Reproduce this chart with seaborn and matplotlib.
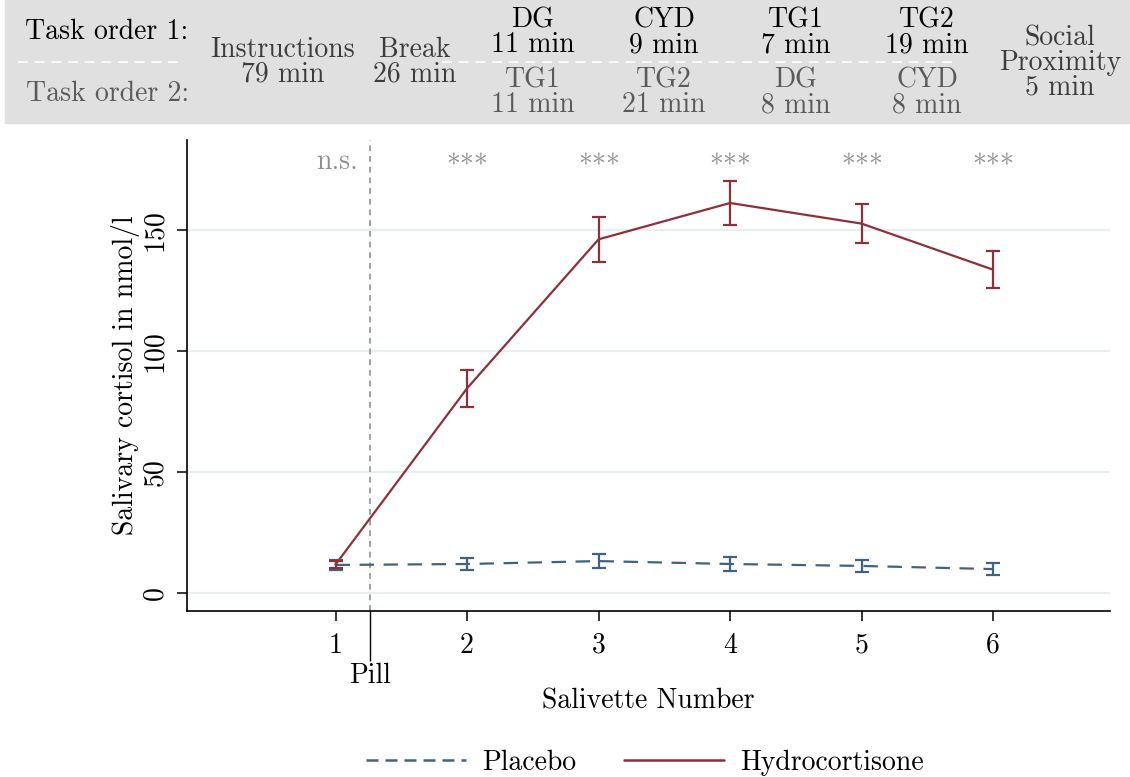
import numpy as np
import pandas as pd
import matplotlib
matplotlib.use("Agg")
import matplotlib.pyplot as plt
import matplotlib.transforms as mtransforms
import seaborn as sns

# data
salivette = [1, 2, 3, 4, 5, 6]
placebo_mean = [11.6, 12.0, 13.2, 12.0, 11.2, 9.9]
placebo_err = [2.0, 2.6, 3.0, 2.8, 2.4, 2.4]
hydro_mean = [11.8, 84.5, 146.0, 161.0, 152.5, 133.5]
hydro_err = [1.5, 7.7, 9.3, 9.1, 8.2, 7.5]
signif = ["n.s.", "***", "***", "***", "***", "***"]

order1 = [("DG", "11 min"), ("CYD", "9 min"), ("TG1", "7 min"), ("TG2", "19 min")]
order2 = [("TG1", "11 min"), ("TG2", "21 min"), ("DG", "8 min"), ("CYD", "8 min")]

placebo_col = "#3e6480"
hydro_col = "#8f3039"
FS = 20

sns.set_style("white")
plt.rcParams["font.family"] = ["cmr10", "DejaVu Serif"]
plt.rcParams["mathtext.fontset"] = "cm"
plt.rcParams["axes.formatter.use_mathtext"] = True
plt.rcParams["text.color"] = "black"
plt.rcParams["xtick.color"] = "black"
plt.rcParams["ytick.color"] = "black"
plt.rcParams["axes.labelcolor"] = "black"

df = pd.DataFrame({
    "Salivette": salivette * 2,
    "cortisol": placebo_mean + hydro_mean,
    "group": ["Placebo"] * 6 + ["Hydrocortisone"] * 6,
})

fig = plt.figure(figsize=(11.3, 7.77), dpi=100)
ax = fig.add_axes([187 / 1130, 1 - 611 / 777, (1110 - 187) / 1130, (611 - 140) / 777])

# horizontal grid
for yv in [0, 50, 100, 150]:
    ax.axhline(yv, color="#e9eff1", lw=1.6, zorder=0)

sns.lineplot(data=df, x="Salivette", y="cortisol", hue="group", style="group",
             palette={"Placebo": placebo_col, "Hydrocortisone": hydro_col},
             dashes={"Placebo": (6.5, 4.3), "Hydrocortisone": ""},
             linewidth=1.6, ax=ax, legend=False, zorder=3)

ax.errorbar(salivette, placebo_mean, yerr=placebo_err, fmt="none",
            ecolor=placebo_col, elinewidth=1.6, capsize=5, capthick=1.6, zorder=3)
ax.errorbar(salivette, hydro_mean, yerr=hydro_err, fmt="none",
            ecolor=hydro_col, elinewidth=1.6, capsize=5, capthick=1.6, zorder=3)

pill_x = 1.26
ax.axvline(pill_x, color="#a0a0a0", lw=1.4, ls=(0, (3, 2.5)), zorder=1)

# significance markers
for x, s in zip(salivette, signif):
    if s == "n.s.":
        ax.text(pill_x - 0.09, 178, s, ha="right", va="center", fontsize=FS, color="#909090")
    else:
        ax.text(x, 180, r"${\ast}{\ast}{\ast}$", ha="center", va="center", fontsize=FS, color="#909090")

ax.set_xlim(-0.13, 6.89)
ax.set_ylim(-7.4, 187)
ax.set_xticks(salivette)
ax.set_xticklabels([str(s) for s in salivette], fontsize=FS)
ax.set_xticks([pill_x], minor=True)
ax.set_xticklabels(["Pill"], minor=True, fontsize=FS)
ax.tick_params(axis="x", which="both", bottom=True)
ax.tick_params(axis="x", which="major", length=7.5, width=1.1, pad=8)
ax.tick_params(axis="x", which="minor", length=36, width=1.0, pad=1)
ax.set_yticks([0, 50, 100, 150])
ax.set_yticklabels(["0", "50", "100", "150"], rotation=90, va="center", fontsize=FS)
ax.tick_params(axis="y", left=True, length=7.5, width=1.1, pad=6)
ax.set_xlabel("Salivette Number", fontsize=FS, va="center")
ax.set_ylabel("Salivary cortisol in nmol/l", fontsize=FS, va="center")
ax.xaxis.set_label_coords(0.5, (611 - 701) / 471)
ax.yaxis.set_label_coords((125 - 187) / 923, 0.5)
for side in ["top", "right"]:
    ax.spines[side].set_visible(False)
for side in ["left", "bottom"]:
    ax.spines[side].set_linewidth(1.2)
    ax.spines[side].set_color("black")

# header band
fig.patches.append(plt.Rectangle((5 / 1130, 1 - 123 / 777), 1 - 5 / 1130, 123 / 777,
                                 transform=fig.transFigure, color="#e0e0e0", zorder=-1))
trans = mtransforms.blended_transform_factory(ax.transData, fig.transFigure)

def fy(px):
    return 1 - px / 777

def htext(x, ypx, s, color, tr=trans):
    fig.text(x, fy(ypx), s, transform=tr, ha="center", va="center", fontsize=FS, color=color)

htext(107 / 1130, 32, "Task order 1:", "black", fig.transFigure)
htext(107 / 1130, 94, "Task order 2:", "#5a5a5a", fig.transFigure)
htext(0.6, 50, "Instructions", "#3c3c3c")
htext(0.6, 74, "79 min", "#3c3c3c")
htext(1.6, 50, "Break", "#3c3c3c")
htext(1.6, 74, "26 min", "#3c3c3c")
for i, ((t1, m1), (t2, m2)) in enumerate(zip(order1, order2)):
    xc = 2.5 + i
    htext(xc, 20, t1, "black")
    htext(xc, 45, m1, "black")
    htext(xc, 80, t2, "#5a5a5a")
    htext(xc, 105, m2, "#5a5a5a")
htext(6.51, 38, "Social", "#3c3c3c")
htext(6.51, 63, "Proximity", "#3c3c3c")
htext(6.51, 87, "5 min", "#3c3c3c")

# white dashed separators in header
fig.add_artist(plt.Line2D([18 / 1130, 178 / 1130], [fy(62), fy(62)], transform=fig.transFigure,
                          color="white", lw=1.2, ls=(0, (6, 4))))
fig.add_artist(plt.Line2D([442 / 1130, 955 / 1130], [fy(62), fy(62)], transform=fig.transFigure,
                          color="white", lw=1.2, ls=(0, (6, 4))))

# legend
handles = [plt.Line2D([], [], color=placebo_col, lw=1.8, ls=(0, (4.8, 2.8))),
           plt.Line2D([], [], color=hydro_col, lw=1.8)]
fig.legend(handles, ["Placebo", "Hydrocortisone"], loc="center", bbox_to_anchor=(645 / 1130, fy(763)),
           ncol=2, frameon=False, fontsize=FS, handlelength=3.6, columnspacing=1.7, handletextpad=0.6)

fig.savefig("out.png", dpi=100)
